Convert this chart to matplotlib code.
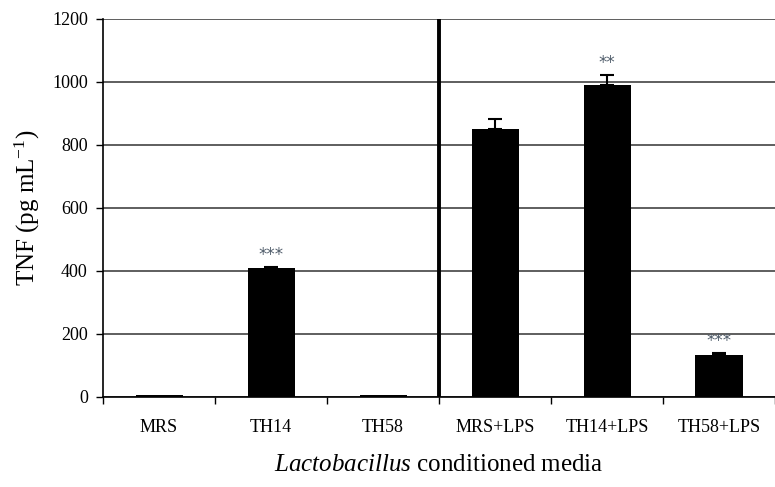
import numpy as np
import matplotlib
matplotlib.use("Agg")
import matplotlib.pyplot as plt

plt.rcParams["font.family"] = ["Liberation Serif", "DejaVu Serif"]
plt.rcParams["mathtext.fontset"] = "custom"
plt.rcParams["mathtext.rm"] = "Liberation Serif"
plt.rcParams["mathtext.it"] = "Liberation Serif:italic"

# data
groups = ["MRS", "TH14", "TH58", "MRS+LPS", "TH14+LPS", "TH58+LPS"]
tnf = [5, 408, 5, 852, 990, 132]
err = [0, 5, 0, 30, 32, 7]
stars = ["", "***", "", "", "**", "***"]

fig = plt.figure(figsize=(7.75, 4.87), dpi=100)
ax = fig.add_axes([0.133, 0.185, 0.867, 0.776])

x = np.arange(len(groups))
ax.bar(x, tnf, width=0.42, color="black", zorder=3)
has_err = np.array(err) > 0
ax.errorbar(x[has_err], np.array(tnf)[has_err],
            yerr=[np.zeros(has_err.sum()), np.array(err)[has_err]], fmt="none",
            ecolor="black", elinewidth=1.5, capsize=5, capthick=1.5, zorder=3)

for xi, v, e, s in zip(x, tnf, err, stars):
    if s:
        ax.text(xi, v + e + 10, s, ha="center", va="bottom",
                color="#4f5c6a", fontsize=12, family="DejaVu Sans")

# separator between control and LPS groups
ax.axvline(2.5, color="black", lw=2.8, zorder=4)

ax.set_xlim(-0.5, 5.42)
ax.set_ylim(0, 1200)
ax.set_yticks(range(0, 1201, 200))
ax.yaxis.grid(True, color="#333333", lw=1.1, zorder=0)
ax.set_axisbelow(True)

ax.set_xticks(np.arange(-0.5, 6, 1.0))
ax.set_xticklabels([])
ax.set_xticks(x, minor=True)
ax.set_xticklabels(groups, minor=True, fontsize=13)
ax.tick_params(axis="x", which="minor", length=0, pad=16)
ax.tick_params(axis="x", which="major", length=5, direction="out", width=1)
ax.tick_params(axis="y", length=5, direction="out", width=1, labelsize=13, pad=6)

for side in ["top", "right"]:
    ax.spines[side].set_visible(False)
ax.spines["left"].set_linewidth(1.2)
ax.spines["bottom"].set_linewidth(1.2)

ax.set_ylabel(r"TNF (pg mL$^{\mathregular{-1}}$)", fontsize=18, labelpad=7)
ax.set_xlabel(r"$\it{Lactobacillus}$ conditioned media", fontsize=18, labelpad=13)

fig.savefig("out.png", dpi=100)
